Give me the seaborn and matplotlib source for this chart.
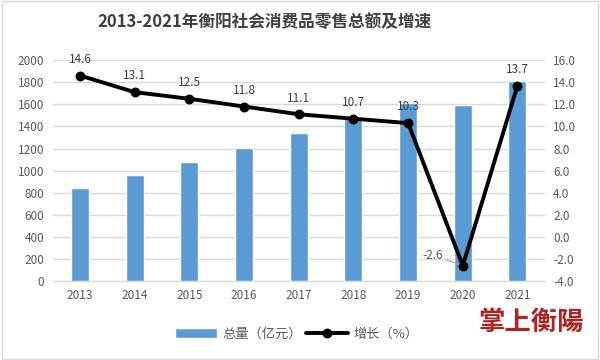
import numpy as np
import pandas as pd
import matplotlib
matplotlib.use("Agg")
import matplotlib.pyplot as plt
import seaborn as sns

years = ['2013', '2014', '2015', '2016', '2017', '2018', '2019', '2020', '2021']
total = [842, 960, 1078, 1205, 1340, 1472, 1613, 1593, 1810]
growth = [14.6, 13.1, 12.5, 11.8, 11.1, 10.7, 10.3, -2.6, 13.7]

sns.set_style("white")
plt.rcParams['font.family'] = ['Noto Sans CJK SC', 'DejaVu Sans']

df = pd.DataFrame({'年份': years, '总量': total, '增长': growth})

fig = plt.figure(figsize=(6, 3.6), dpi=100)
ax = fig.add_axes([0.088, 0.219, 0.82, 0.614])

# 柱状图
sns.barplot(data=df, x='年份', y='总量', color='#5B9BD5', width=0.33,
            saturation=1, ax=ax, label='总量（亿元）')
ax.set_ylim(0, 2000)
ax.set_yticks(range(0, 2001, 200))
ax.yaxis.grid(True, color='#D9D9D9', linewidth=1)
ax.set_axisbelow(True)
ax.set_xlabel('')
ax.set_ylabel('')
for s in ax.spines.values():
    s.set_visible(False)
ax.spines['bottom'].set_visible(True)
ax.spines['bottom'].set_color('#D9D9D9')
ax.tick_params(axis='both', length=0, labelsize=8.5, labelcolor='#595959', pad=6)

# 折线（右轴）
ax2 = ax.twinx()
sns.pointplot(data=df, x='年份', y='增长', color='black', ax=ax2,
              markers='o', markersize=5, linewidth=2.8, label='增长（%）')
ax2.set_ylim(-4, 16)
ax2.set_yticks(np.arange(-4, 16.1, 2))
ax2.set_yticklabels([f'{v:.1f}' for v in np.arange(-4, 16.1, 2)])
ax2.set_ylabel('')
ax2.set_xlim(-0.5, 8.5)
ax.set_xlim(-0.5, 8.5)
for s in ax2.spines.values():
    s.set_visible(False)
ax2.tick_params(axis='y', length=0, labelsize=8.5, labelcolor='#595959', pad=6)

for i, v in enumerate(growth):
    if v < 0:
        ax2.annotate(f'{v}', xy=(i, v), xytext=(-22, 3), textcoords='offset points',
                     ha='center', va='bottom', fontsize=8.5, color='#595959',
                     arrowprops=dict(arrowstyle='-', color='#A6A6A6', lw=0.8,
                                     shrinkA=0, shrinkB=3))
    else:
        ax2.annotate(f'{v}', xy=(i, v), xytext=(0, 7), textcoords='offset points',
                     ha='center', va='bottom', fontsize=8.5, color='#404040')

# 图例
h1, l1 = ax.get_legend_handles_labels()
h2, l2 = ax2.get_legend_handles_labels()
for a in (ax, ax2):
    if a.get_legend():
        a.get_legend().remove()
fig.legend(h1 + h2, l1 + l2, loc='center', bbox_to_anchor=(0.495, 0.072), ncol=2,
           frameon=False, fontsize=9.5, handlelength=3.2, columnspacing=0.3,
           handletextpad=0.4, labelcolor='#595959')

fig.text(0.44, 0.94, '2013-2021年衡阳社会消费品零售总额及增速', ha='center', va='center',
         fontsize=12, fontweight='bold', color='#404040')
fig.text(0.885, 0.105, '掌上衡陽', ha='center', va='center', fontsize=19,
         fontweight='bold', color='#B22222', family=['Noto Sans CJK TC', 'DejaVu Sans'])

fig.patches.append(plt.Rectangle((0.003, 0.003), 0.994, 0.994, transform=fig.transFigure,
                                 fill=False, edgecolor='#D9D9D9', linewidth=1))

fig.savefig('out.png', dpi=100)
